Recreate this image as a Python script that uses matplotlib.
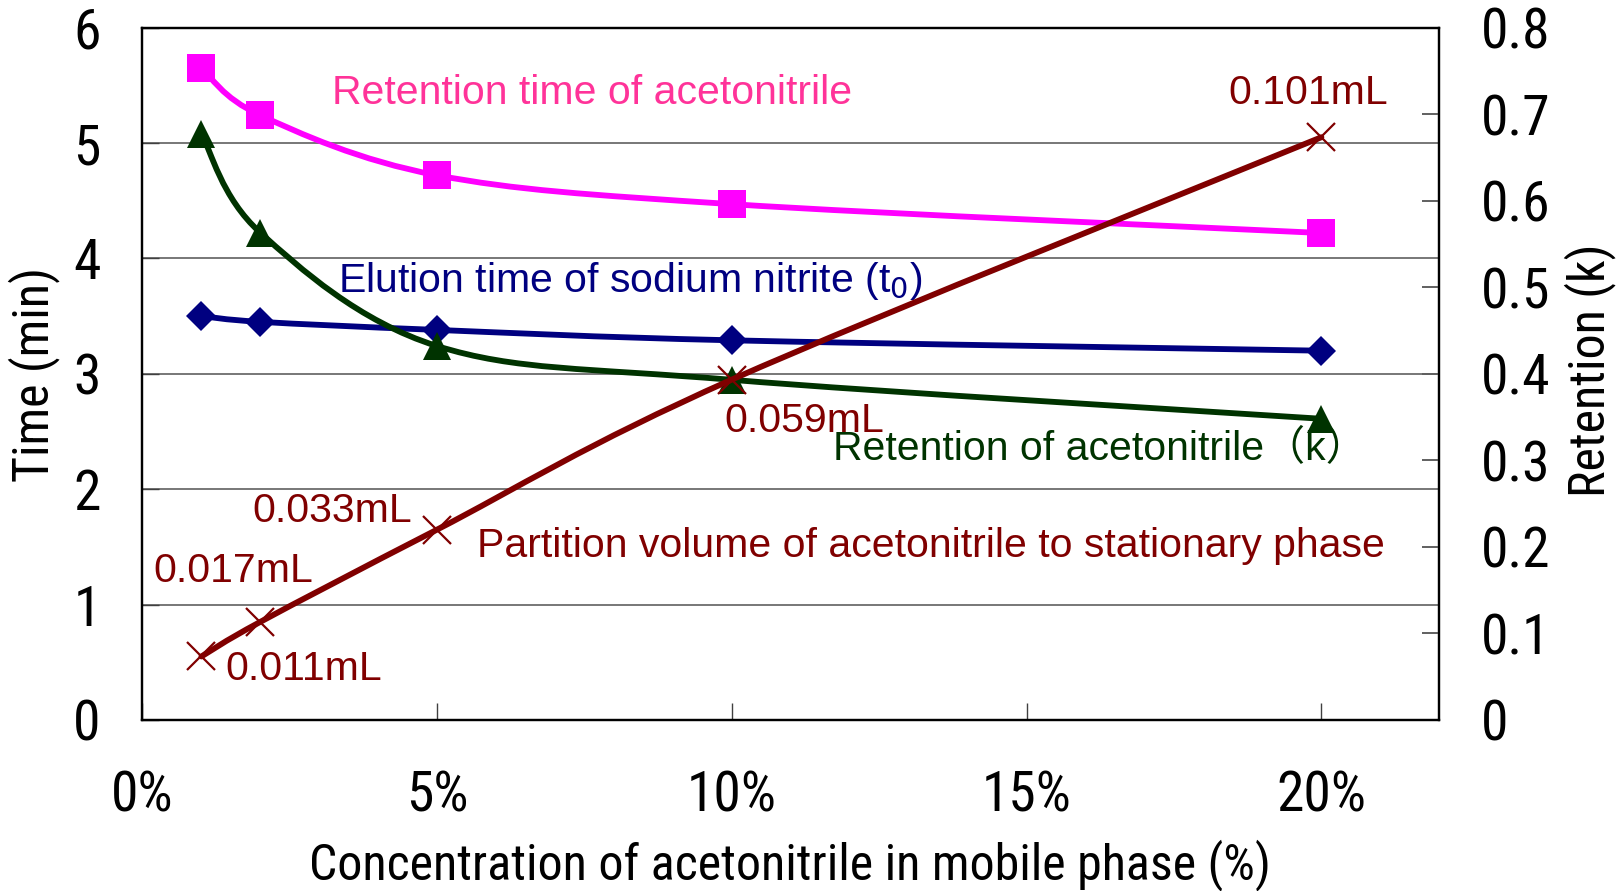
import numpy as np
import matplotlib
matplotlib.use("Agg")
import matplotlib.pyplot as plt
from matplotlib.path import Path
from matplotlib.patches import PathPatch
from matplotlib.ticker import FuncFormatter, MultipleLocator
from matplotlib import font_manager

# data
conc = [1, 2, 5, 10, 20]                      # acetonitrile in mobile phase (%)
ret_time = [5.65, 5.24, 4.72, 4.47, 4.22]     # retention time of acetonitrile (min)
t0_time = [3.50, 3.45, 3.38, 3.29, 3.20]      # elution time of sodium nitrite (min)
k_ret = [0.677, 0.563, 0.432, 0.393, 0.348]   # retention k
part_vol = [0.011, 0.017, 0.033, 0.059, 0.101]  # partition volume (mL)
vol_labels = ["0.011mL", "0.017mL", "0.033mL", "0.059mL", "0.101mL"]

# pick a condensed face if one is around
installed = {f.name for f in font_manager.fontManager.ttflist}
narrow_pick = [n for n in ["Liberation Sans Narrow", "DejaVu Sans Condensed",
                           "Roboto Condensed", "Open Sans Condensed"] if n in installed]
NARROW = narrow_pick[:1] + ["Liberation Sans", "DejaVu Sans"]
SANS = ["Liberation Sans", "Noto Sans CJK JP", "DejaVu Sans"]

MAGENTA = "#FF00FF"
NAVY = "#000080"
GREEN = "#003300"
DRED = "#800000"


def smooth_path(xs, ys):
    # excel-like smoothed line: cardinal spline as cubic bezier segments
    pts = np.column_stack([xs, ys]).astype(float)
    n = len(pts)
    verts = [pts[0]]
    codes = [Path.MOVETO]
    for i in range(n - 1):
        p0 = pts[i - 1] if i > 0 else pts[i]
        p1 = pts[i]
        p2 = pts[i + 1]
        p3 = pts[i + 2] if i + 2 < n else pts[i + 1]
        verts += [p1 + (p2 - p0) / 6, p2 - (p3 - p1) / 6, p2]
        codes += [Path.CURVE4] * 3
    return Path(verts, codes)


def draw_series(ax, xs, ys, color, marker, ms, mew=0, z=3):
    ax.add_patch(PathPatch(smooth_path(xs, ys), fill=False, edgecolor=color,
                           lw=4.2, zorder=z, capstyle="round", joinstyle="round"))
    ax.plot(xs, ys, ls="none", marker=marker, ms=ms, color=color,
            mec=color, mew=mew, zorder=z + 1)


fig = plt.figure(figsize=(16.19, 8.91), dpi=100)
pos = [0.088, 0.192, 0.801, 0.777]
ax = fig.add_axes(pos)
ax2 = ax.twinx()
ax3 = fig.add_axes(pos, sharex=ax)
ax3.axis("off")
ax3.patch.set_visible(False)

ax.set_xlim(0, 22)
ax.set_ylim(0, 6)
ax2.set_ylim(0, 0.8)
ax3.set_ylim(0, 0.12)

# grid on the left axis
for g in range(1, 6):
    ax.axhline(g, color="#606060", lw=1.2, zorder=1)

draw_series(ax, conc, ret_time, MAGENTA, "s", 20)
draw_series(ax, conc, t0_time, NAVY, "D", 15)
draw_series(ax2, conc, k_ret, GREEN, "^", 20)
draw_series(ax3, conc, part_vol, DRED, "x", 20, mew=1.6)

# ticks
ax.xaxis.set_major_locator(MultipleLocator(5))
ax.xaxis.set_major_formatter(FuncFormatter(lambda v, p: f"{v:.0f}%"))
ax.yaxis.set_major_locator(MultipleLocator(1))
ax2.yaxis.set_major_locator(MultipleLocator(0.1))
ax2.yaxis.set_major_formatter(FuncFormatter(lambda v, p: "0" if v < 1e-9 else f"{v:.1f}"))

ax.tick_params(axis="x", direction="in", length=12, width=1, color="#404040", pad=36)
ax.tick_params(axis="y", direction="in", length=12, width=1, color="#404040", pad=30)
ax2.tick_params(axis="y", direction="in", length=12, width=1.4, color="#606060", pad=30)
for lab in ax.get_xticklabels() + ax.get_yticklabels() + ax2.get_yticklabels():
    lab.set_family(NARROW)
    lab.set_fontsize(40)

for a in (ax, ax2):
    for s in a.spines.values():
        s.set_linewidth(1.6)
        s.set_color("black")

# axis titles
fig.text(0.488, 0.029, "Concentration of acetonitrile in mobile phase (%)", family=NARROW,
         fontsize=36, ha="center", va="center")
fig.text(0.021, 0.580, "Time (min)", family=NARROW, fontsize=36,
         rotation=90, ha="center", va="center")
fig.text(0.982, 0.584, "Retention (k)", family=NARROW, fontsize=36,
         rotation=90, ha="center", va="center")

# series labels
FS = 29.5
ax.text(3.22, 5.43, "Retention time of acetonitrile", color="#FF3399",
        family=SANS, fontsize=FS, va="center", zorder=6)
ax.text(3.31, 3.80, "Elution time of sodium nitrite (t$_0$)", color=NAVY,
        family=SANS, fontsize=FS, va="center", zorder=6)
ax.text(11.72, 2.35, "Retention of acetonitrile（k）", color=GREEN,
        family=SANS, fontsize=FS, va="center", zorder=6)
ax.text(5.67, 1.51, "Partition volume of acetonitrile to stationary phase", color=DRED,
        family=SANS, fontsize=FS, va="center", zorder=6)

# volume labels
vol_pos = [(1.40, 0.44), (0.18, 1.29), (1.87, 1.81), (9.88, 2.59), (18.42, 5.43)]
for (tx, ty), lab in zip(vol_pos, vol_labels):
    ax.text(tx, ty, lab, color=DRED, family=SANS, fontsize=FS, va="center", zorder=6)

fig.savefig("out.png", dpi=100)
